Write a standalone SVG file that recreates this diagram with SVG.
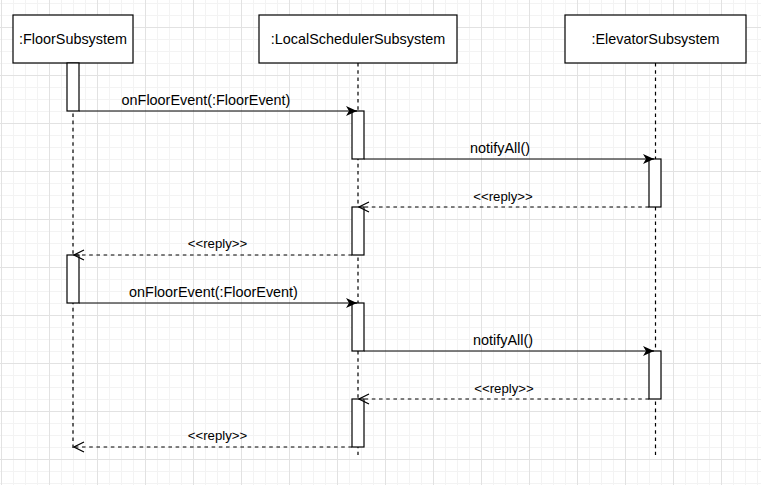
<svg xmlns="http://www.w3.org/2000/svg" width="761" height="485" viewBox="0 0 761 485">
<style>
.box{fill:#fff;stroke:#000;stroke-width:1.2}
.act{fill:#fff;stroke:#000;stroke-width:1.2}
.life{stroke:#000;stroke-width:1.2;stroke-dasharray:3.6 3.6;fill:none}
.msg{stroke:#000;stroke-width:1.2;fill:none}
.ret{stroke:#000;stroke-width:1.2;stroke-dasharray:3.6 3.6;fill:none}
.t{font-family:"Liberation Sans",Arial,sans-serif;font-size:14.4px;fill:#000;text-anchor:middle}
.r{font-family:"Liberation Sans",Arial,sans-serif;font-size:13.2px;fill:#000;text-anchor:middle}
</style>
<defs>
<pattern id="grid" patternUnits="userSpaceOnUse" x="1" y="27" width="48" height="48">
<rect x="0" y="12" width="48" height="1" fill="#f3f3f3"/>
<rect x="0" y="24" width="48" height="1" fill="#f3f3f3"/>
<rect x="0" y="36" width="48" height="1" fill="#f3f3f3"/>
<rect x="12" y="0" width="1" height="48" fill="#f3f3f3"/>
<rect x="24" y="0" width="1" height="48" fill="#f3f3f3"/>
<rect x="36" y="0" width="1" height="48" fill="#f3f3f3"/>
<rect x="0" y="0" width="48" height="1" fill="#e2e2e2"/>
<rect x="0" y="0" width="1" height="48" fill="#e2e2e2"/>
</pattern>
<marker id="block" viewBox="0 0 11 10" refX="11" refY="5" markerWidth="11" markerHeight="10" markerUnits="userSpaceOnUse" orient="auto">
<path d="M0,0 L11,5 L0,10 L3,5 Z" fill="#000"/>
</marker>
<marker id="open" viewBox="0 0 12 12" refX="11" refY="6" markerWidth="12" markerHeight="12" markerUnits="userSpaceOnUse" orient="auto">
<path d="M1,1 L11,6 L1,11" fill="none" stroke="#000" stroke-width="1.2"/>
</marker>
</defs>
<rect width="761" height="485" fill="#fff"/>
<rect width="761" height="485" fill="url(#grid)"/>

<g id="lifelines">
<line class="life" x1="73" y1="63" x2="73" y2="448"/>
<line class="life" x1="358" y1="63" x2="358" y2="455"/>
<line class="life" x1="655.5" y1="63" x2="655.5" y2="455"/>
</g>

<g id="floor">
<rect class="box" x="13" y="15" width="120" height="48"/>
<text class="t" x="73" y="44">:FloorSubsystem</text>
</g>
<g id="scheduler">
<rect class="box" x="259" y="15" width="198" height="48"/>
<text class="t" x="358" y="44">:LocalSchedulerSubsystem</text>
</g>
<g id="elevator">
<rect class="box" x="565" y="15" width="181" height="48"/>
<text class="t" x="655.5" y="44">:ElevatorSubsystem</text>
</g>

<g id="activations">
<rect class="act" x="67" y="63" width="12" height="48"/>
<rect class="act" x="352" y="111" width="12" height="48"/>
<rect class="act" x="649" y="159" width="12" height="48"/>
<rect class="act" x="352" y="207" width="12" height="48"/>
<rect class="act" x="67" y="255" width="12" height="48"/>
<rect class="act" x="352" y="303" width="12" height="48"/>
<rect class="act" x="649" y="351" width="12" height="48"/>
<rect class="act" x="352" y="399" width="12" height="48"/>
</g>

<g id="connectors">
<line class="msg" x1="79" y1="111" x2="357" y2="111" marker-end="url(#block)"/>
<line class="msg" x1="364" y1="159" x2="654" y2="159" marker-end="url(#block)"/>
<line class="ret" x1="649" y1="207" x2="359" y2="207" marker-end="url(#open)"/>
<line class="ret" x1="352" y1="255" x2="74" y2="255" marker-end="url(#open)"/>
<line class="msg" x1="79" y1="303" x2="357" y2="303" marker-end="url(#block)"/>
<line class="msg" x1="364" y1="351" x2="654" y2="351" marker-end="url(#block)"/>
<line class="ret" x1="649" y1="399" x2="359" y2="399" marker-end="url(#open)"/>
<line class="ret" x1="352" y1="447" x2="74" y2="447" marker-end="url(#open)"/>
<text class="t" x="206" y="105">onFloorEvent(:FloorEvent)</text>
<text class="t" x="500" y="153">notifyAll()</text>
<text class="r" x="503" y="201">&lt;&lt;reply&gt;&gt;</text>
<text class="r" x="217.5" y="248">&lt;&lt;reply&gt;&gt;</text>
<text class="t" x="213.5" y="297">onFloorEvent(:FloorEvent)</text>
<text class="t" x="503" y="345">notifyAll()</text>
<text class="r" x="504" y="393">&lt;&lt;reply&gt;&gt;</text>
<text class="r" x="217.5" y="440">&lt;&lt;reply&gt;&gt;</text>
</g>
</svg>
